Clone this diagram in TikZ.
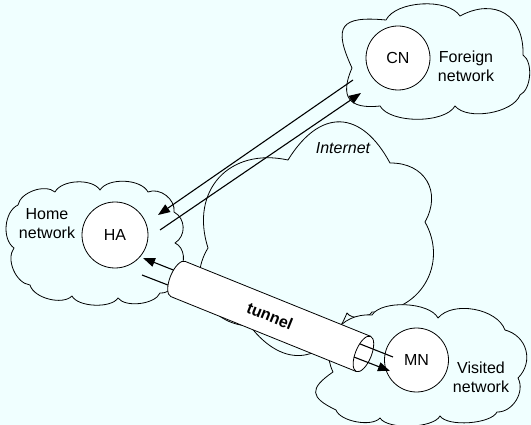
\documentclass[tikz,border=0pt]{standalone}
\usepackage{fontspec}
\setmainfont{Liberation Sans}
\usetikzlibrary{arrows.meta}
\definecolor{sky}{RGB}{240,255,255}
\begin{document}
\begin{tikzpicture}[x=1pt,y=-1pt,
  lb/.style={bend left=60,looseness=#1}, lb/.default=1,
  cloudline/.style={draw=black,line width=0.8pt,fill=sky,line join=round},
  host/.style={circle,draw,line width=0.8pt,fill=white,minimum size=66pt,inner sep=0pt,font=\fontsize{16}{18}\selectfont},
  nettext/.style={align=center,font=\fontsize{16}{19}\selectfont},
  arr/.style={line width=1.1pt,-{Triangle[length=12pt,width=9pt]}},
  plain/.style={line width=1.1pt},
  tube/.style={line width=0.8pt}
]
% page background
\fill[sky] (0,0) rectangle (531,425);
\useasboundingbox (0,0) rectangle (531,425);

% the Internet
\path[cloudline] (208,248) to[lb=1.3] (288,160) to[lb=1.53] (390,163) to[lb=1.3] (425,222)
  to[lb=1.18] (372,312) to[lb=0.8] (347,313) to[lb=1.45] (250,326) to[lb=1.2] cycle;

% home network
\path[cloudline] (18,205) to[lb=0.85] (55,192) to[lb=0.8] (100,190) to[lb=0.8] (148,192)
  to[lb=1.0] (174,212) to[lb=1.1] (175,243) to[lb=1.0] (178,270) to[lb=0.9] (160,293)
  to[lb=0.75] (118,298) to[lb=0.7] (72,296) to[lb=0.8] (30,285) to[lb=0.9] (14,248)
  to[lb=0.9] cycle;

% foreign network
\path[cloudline] (352,68) to[lb=2.0] (386,20) to[lb=0.75] (460,16) to[lb=1.37] (523,55)
  to[lb=0.8] (520,95) to[lb=0.75] (455,106) to[lb=0.7] (380,106) to[lb=1.7] cycle;

% visited network
\path[cloudline] (372,315) to[lb=0.7] (438,318) to[lb=0.86] (505,330) to[lb=1.18] (518,378)
  to[lb=1.0] (497,412) to[lb=0.6] (440,416) to[lb=0.6] (380,418) to[lb=0.7] (336,410)
  to[lb=1.96] (333,372) to[lb=1.2] cycle;

% hosts
\node[host] (HA) at (115,235) {HA};
\node[host,minimum size=64pt] (CN) at (398,58) {CN};
\node[host,minimum size=64pt] (MN) at (416.5,360) {MN};

% end points of the message paths
\coordinate (cA1) at (353,80);
\coordinate (cA2) at (158,215);
\coordinate (cB1) at (160,230);
\coordinate (cB2) at (361,93);
\coordinate (tA1) at (393,357);
\coordinate (tA2) at (143,258);
\coordinate (tB1) at (142,275);
\coordinate (tB2) at (390,371);

% CN <-> HA
\draw[arr] (cA1) -- (cA2);
\draw[arr] (cB1) -- (cB2);

% HA <-> MN through the tunnel
\draw[arr] (tA1) -- (tA2);
\draw[arr] (tB1) -- (tB2);

% the tunnel
\begin{scope}[shift={(178,279)},rotate=-22]
  \fill[white] (0,-19) rectangle (200,19);
  \fill[white] (0,0) ellipse[x radius=8,y radius=19];
  \fill[white] (200,0) ellipse[x radius=8,y radius=19];
  \draw[tube] (0,-19) -- (200,-19) (0,19) -- (200,19);
  \draw[tube] (200,0) ellipse[x radius=8,y radius=19];
  \begin{scope}
    \clip (-12,-22) rectangle (0,22);
    \draw[tube] (0,0) ellipse[x radius=8,y radius=19];
  \end{scope}
  \begin{scope}
    \clip (200,0) ellipse[x radius=8,y radius=19];
    \draw[plain] (tA1) -- (tA2);
    \draw[plain] (tB1) -- (tB2);
  \end{scope}
\end{scope}

% labels
\node[nettext] (homelbl) at (47,224) {Home\\network};
\node[nettext] (forlbl) at (466,66) {Foreign\\network};
\node[nettext] (vislbl) at (481,377) {Visited\\network};
\node[font=\fontsize{16}{19}\selectfont\itshape] (inet) at (343,148) {Internet};
\node[font=\fontsize{16}{19}\selectfont\bfseries,rotate=-22] (tunlbl) at (270,316) {tunnel};
\end{tikzpicture}
\end{document}
